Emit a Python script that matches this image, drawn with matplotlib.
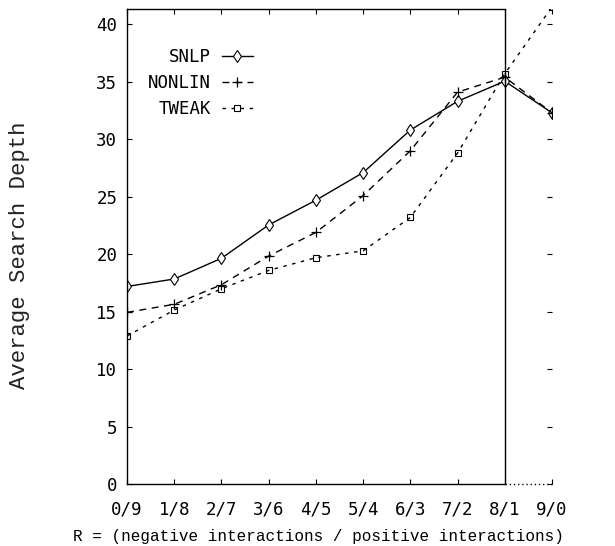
import matplotlib
matplotlib.use("Agg")
import matplotlib.pyplot as plt

categories = ["0/9", "1/8", "2/7", "3/6", "4/5", "5/4", "6/3", "7/2", "8/1", "9/0"]
snlp = [17.2, 17.85, 19.65, 22.55, 24.7, 27.1, 30.8, 33.3, 35.05, 32.3]
nonlin = [14.95, 15.65, 17.35, 19.85, 21.9, 25.1, 29.0, 34.1, 35.4, 32.3]
tweak = [12.9, 15.15, 17.0, 18.6, 19.7, 20.3, 23.2, 28.8, 35.7, 41.5]
yticks = [0, 5, 10, 15, 20, 25, 30, 35, 40]

fig = plt.figure(figsize=(6.15, 5.46), dpi=100)
ax = fig.add_axes([127/615, 1-484.3/546, 425/615, 475/546])
x = list(range(len(categories)))

tickfont = dict(family=["DejaVu Sans Mono"], size=12.5)

ax.plot(x, snlp, '-', color='black', lw=1.0, marker='d', ms=6, mfc='white', mew=0.8, label='SNLP')
ax.plot(x, nonlin, color='black', lw=1.0, ls=(0, (5, 4)), marker='+', ms=6.5, mew=0.9, label='NONLIN')
ax.plot(x, tweak, color='black', lw=1.0, ls=(0, (2.5, 4)), marker='s', ms=5, mfc='none', mew=0.8, label='TWEAK')

ax.set_xlim(0, 9)
ax.set_ylim(0, 41.3)
ax.set_xticks(x)
ax.set_xticklabels(categories, fontdict=tickfont)
ax.set_yticks(yticks)
ax.set_yticklabels([str(v) for v in yticks], fontdict=tickfont)

ax.tick_params(direction='in', length=3.5, width=0.8, top=True, right=True, color='black')
ax.tick_params(axis='x', pad=12)
ax.tick_params(axis='y', pad=7)

ax.spines['right'].set_visible(False)
ax.spines['top'].set_bounds(0, 8)
ax.spines['bottom'].set_bounds(0, 8)
for s in ['top', 'bottom', 'left']:
    ax.spines[s].set_linewidth(1.0)
ax.axvline(8, color='black', lw=1.0)
ax.plot([8, 9], [0, 0], color='black', lw=1.0, ls=(0, (1, 2)), clip_on=False)

ax.set_xlabel("R = (negative interactions / positive interactions)", family="Liberation Mono", fontsize=11.5)
ax.xaxis.set_label_coords((318-127)/425, (484.3-529)/475)
ax.set_ylabel("Average Search Depth", family="Liberation Mono", fontsize=16, color='#222222')
ax.yaxis.set_label_coords((30-127)/425, (484.3-255)/475)

leg = ax.legend(loc='upper right', bbox_to_anchor=((253-127)/425, (484.3-48)/475),
                markerfirst=False, frameon=False, borderpad=0, borderaxespad=0,
                handlelength=1.8, handletextpad=0.6, labelspacing=0.45,
                prop=dict(family="DejaVu Sans Mono", size=12.5))

fig.savefig("out.png", dpi=100)
